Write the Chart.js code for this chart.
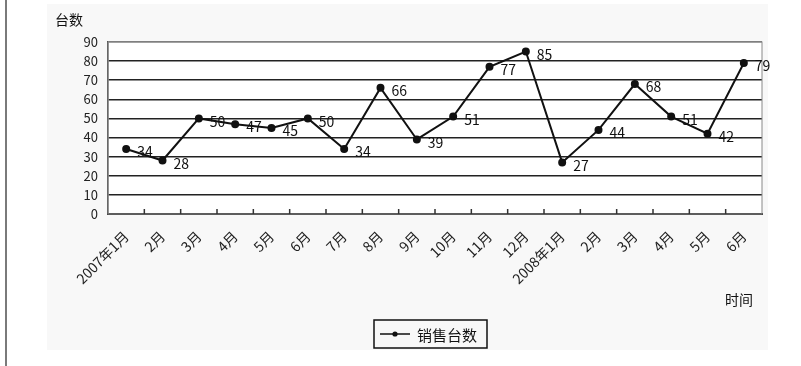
<!DOCTYPE html>
<html lang="zh">
<head>
<meta charset="utf-8" />
<script src="https://cdn.jsdelivr.net/npm/chart.js@4.4.1/dist/chart.umd.min.js"></script>
<style>
  body { margin: 0; background: #fff; }
  #borde { position: absolute; left: 5px; top: 0; width: 2px; height: 366px; background: #7a7a7a; }
  #grafico { position: absolute; left: 0; top: 0; }
</style>
<title>台数</title>
</head>
<body>
<div id="borde"></div>
<canvas id="grafico" width="801" height="366"></canvas>
<script>
// months on the x axis
const meses = ["2007年1月", "2月", "3月", "4月", "5月", "6月", "7月", "8月", "9月", "10月", "11月", "12月",
               "2008年1月", "2月", "3月", "4月", "5月", "6月"];
// monthly counts
const ventas = [34, 28, 50, 47, 45, 50, 34, 66, 39, 51, 77, 85, 27, 44, 68, 51, 42, 79];
// y ticks 0..90
const ticksY = [0, 10, 20, 30, 40, 50, 60, 70, 80, 90];
const serie = "销售台数";
const tituloY = "台数";
const tituloX = "时间";

const fuente = "'Noto Sans CJK SC', 'DejaVu Sans', sans-serif";

const extras = {
  id: "extras",
  beforeDraw(chart) {
    const { ctx, chartArea: a } = chart;
    ctx.save();
    ctx.fillStyle = "#f8f8f8";
    ctx.fillRect(47, 4, 721, 346);
    ctx.fillStyle = "#fff";
    ctx.fillRect(a.left, a.top, a.right - a.left, a.bottom - a.top);
    ctx.restore();
  },
  afterDraw(chart) {
    const { ctx, chartArea: a } = chart;
    const x = chart.scales.x;
    ctx.save();
    // plot frame
    ctx.strokeStyle = "#888"; ctx.lineWidth = 1;
    ctx.strokeRect(a.left, a.top, a.right - a.left, a.bottom - a.top);

    // inner tick marks between months
    ctx.strokeStyle = "#333"; ctx.lineWidth = 1.5;
    ctx.beginPath();
    for (let i = 1; i < meses.length; i++) {
      const px = (x.getPixelForValue(i - 1) + x.getPixelForValue(i)) / 2;
      ctx.moveTo(px, a.bottom); ctx.lineTo(px, a.bottom - 5);
    }
    ctx.stroke();

    // point values
    const meta = chart.getDatasetMeta(0);
    ctx.fillStyle = "#111";
    ctx.font = "14px " + fuente;
    ctx.textAlign = "left"; ctx.textBaseline = "middle";
    meta.data.forEach((p, i) => ctx.fillText(String(ventas[i]), p.x + 11, p.y + 3));

    // axis titles
    ctx.font = "14px " + fuente;
    ctx.fillText(tituloY, a.left - 53, a.top - 22);
    ctx.fillText(tituloX, a.right - 37, a.bottom + 86);

    // legend: line with marker, series name, frame
    const ds = chart.data.datasets[0];
    const lx = 374, ly = 320, lw = 113, lh = 28, cy = ly + lh / 2;
    ctx.strokeStyle = "#111"; ctx.lineWidth = 1.5;
    ctx.strokeRect(lx, ly, lw, lh);
    ctx.beginPath(); ctx.moveTo(lx + 6, cy); ctx.lineTo(lx + 36, cy); ctx.stroke();
    ctx.beginPath(); ctx.arc(lx + 21, cy, 2.6, 0, Math.PI * 2); ctx.fill();
    ctx.font = "15px " + fuente;
    ctx.fillText(ds.label, lx + 43, cy + 1);
    ctx.restore();
  }
};

new Chart(document.getElementById("grafico"), {
  type: "line",
  data: {
    labels: meses,
    datasets: [{
      label: serie,
      data: ventas,
      borderColor: "#111",
      backgroundColor: "#111",
      borderWidth: 2,
      pointRadius: 3,
      pointStyle: "circle",
      tension: 0
    }]
  },
  options: {
    responsive: false,
    animation: false,
    layout: { padding: { left: 50, right: 39, top: 42, bottom: 0 } },
    plugins: {
      tooltip: { enabled: false },
      legend: { display: false }
    },
    scales: {
      y: {
        min: 0, max: 90,
        afterBuildTicks: s => { s.ticks = ticksY.map(v => ({ value: v })); },
        afterFit: s => { s.width = 58; },
        ticks: { color: "#222", padding: 10, font: { family: fuente, size: 13 } },
        grid: {
          color: c => (c.tick && c.tick.value === 90 ? "#777" : "#222"),
          lineWidth: 1.5, drawTicks: false
        },
        border: { color: "#444", width: 1.5 }
      },
      x: {
        offset: true,
        afterFit: s => { s.height = 152; },
        ticks: { color: "#222", padding: 14, maxRotation: 45, minRotation: 45, autoSkip: false,
                 font: { family: fuente, size: 14 } },
        grid: { offset: true, drawOnChartArea: false, drawTicks: false },
        border: { color: "#333", width: 2 }
      }
    }
  },
  plugins: [extras]
});
</script>
</body>
</html>
